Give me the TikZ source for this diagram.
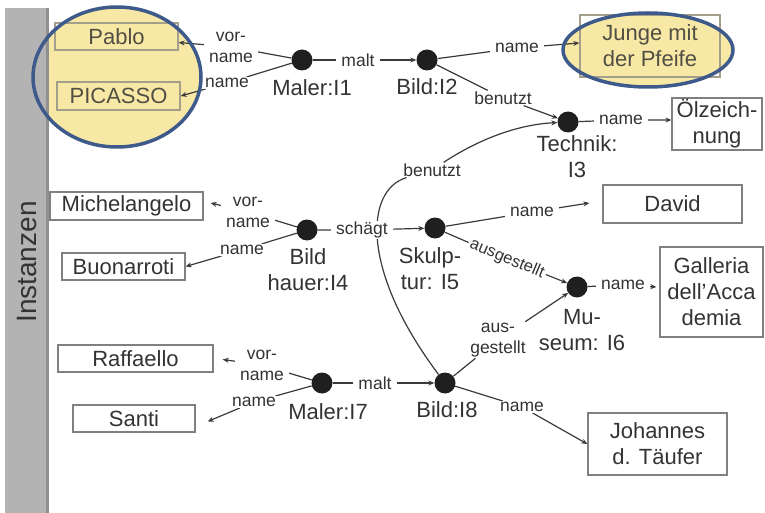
\documentclass[tikz,border=0pt]{standalone}
\usepackage{fontspec}
\setmainfont{Liberation Sans}
\usetikzlibrary{arrows.meta}
\definecolor{ln}{HTML}{3A3A3A}
\definecolor{tx}{HTML}{333333}
\definecolor{bx}{HTML}{808080}
\definecolor{hl}{HTML}{F8E8A6}
\definecolor{hb}{HTML}{3D5A8A}
\definecolor{barc}{HTML}{B3B3B3}
\definecolor{bare}{HTML}{8F8F8F}
\pgfdeclarelayer{hlbg}\pgfdeclarelayer{bg}\pgfdeclarelayer{fg}\pgfsetlayers{hlbg,bg,main,fg}
\begin{document}
\begin{tikzpicture}[x=1pt,y=-1pt,
 box/.style={draw=bx, line width=1.3pt, text=tx, align=center, inner sep=0pt, font=\fontsize{22}{26}\selectfont},
 hbox/.style={box, draw=bx!70!hl, text=tx!85!hl},
 dot/.style={circle, fill=black!88, inner sep=0pt, minimum size=21pt},
 inst/.style={text=tx, align=center, inner sep=0pt, font=\fontsize{22}{26}\selectfont},
 lbl/.style={text=tx, align=center, fill=white, inner xsep=5pt, inner ysep=1pt, font=\fontsize{17.5}{21}\selectfont},
 edge/.style={draw=ln, line width=1.2pt},
 arr/.style={edge, -{Stealth[length=6pt,width=5pt]}},
 hlfill/.style={fill=hl},
 hlring/.style={draw=hb, line width=3.5pt}]
\useasboundingbox (0,0) rectangle (765,513);
% bar
\fill[barc] (5,8) rectangle (49,513);
\draw[bare, line width=3pt] (47.5,8) -- (47.5,513);
\node[rotate=90, text=tx, font=\fontsize{28}{32}\selectfont] (inst) at (27,262) {Instanzen};
% boxes
\node[hbox, minimum width=123pt, minimum height=27pt] (pablo) at (116.5,36.5) {Pablo};
\node[hbox, minimum width=123pt, minimum height=28pt] (picasso) at (118.5,96) {PICASSO};
\node[hbox, minimum width=140pt, minimum height=62pt] (junge) at (650,46) {Junge mit\\der Pfeife};
\node[box, minimum width=90pt, minimum height=52pt] (oel) at (717,124) {Ölzeich-\\nung};
\node[box, minimum width=153pt, minimum height=28pt] (mich) at (126.5,206) {Michelangelo};
\node[box, minimum width=123pt, minimum height=27pt] (buon) at (123.5,266.5) {Buonarroti};
\node[box, minimum width=139pt, minimum height=38pt] (david) at (672.5,204) {David};
\node[box, minimum width=103pt, minimum height=90pt] (gall) at (711.5,292) {Galleria\\dell'Acca\\demia};
\node[box, minimum width=155pt, minimum height=27pt] (raff) at (135.5,358.5) {Raffaello};
\node[box, minimum width=122pt, minimum height=27pt] (santi) at (134,418.5) {Santi};
\node[box, minimum width=139pt, minimum height=62pt] (joh) at (657.5,444) {Johannes\\d. Täufer};
% instance dots
\node[dot] (m1) at (302,60) {};
\node[dot] (i2) at (427,60) {};
\node[dot] (i3) at (568,122) {};
\node[dot] (i4) at (307,230) {};
\node[dot] (i5) at (435,228) {};
\node[dot] (i6) at (577,287) {};
\node[dot] (i7) at (322,383) {};
\node[dot] (i8) at (445,383) {};
% instance names
\node[inst] (n1) at (312,88) {Maler:I1};
\node[inst] (n2) at (427,87) {Bild:I2};
\node[inst] (n3) at (577,157) {Technik:\\I3};
\node[inst] (n4) at (308,270) {Bild\\hauer:I4};
\node[inst] (n5) at (430,269) {Skulp-\\tur: I5};
\node[inst] (n6) at (582,330) {Mu-\\seum: I6};
\node[inst] (n7) at (328,412) {Maler:I7};
\node[inst] (n8) at (447,410) {Bild:I8};
% edge labels
\node[lbl] (l1) at (231,47) {vor-\\name};
\node[lbl] (l2) at (227,83) {name};
\node[lbl] (l3) at (358,60) {malt};
\node[lbl] (l4) at (517,48) {name};
\node[lbl] (l5) at (503,98) {benutzt};
\node[lbl] (l6) at (621,120) {name};
\node[lbl] (l7) at (432,170) {benutzt};
\node[lbl] (l8) at (248,212) {vor-\\name};
\node[lbl] (l9) at (242,250) {name};
\node[lbl] (l10) at (362,230) {schägt};
\node[lbl] (l11) at (532,212) {name};
\node[lbl, rotate=-22.6, inner xsep=2pt, inner ysep=0pt, font=\fontsize{16.5}{20}\selectfont] (l12) at (507,259) {ausgestellt};
\node[lbl] (l13) at (623,285) {name};
\node[lbl] (l14) at (498,340) {aus-\\gestellt};
\node[lbl] (l15) at (262,365) {vor-\\name};
\node[lbl] (l16) at (254,402) {name};
\node[lbl] (l17) at (375,383) {malt};
\node[lbl] (l18) at (522,407) {name};
% highlight fills (behind)
\begin{pgfonlayer}{hlbg}
\path[hlfill] (117,77) ellipse [x radius=84, y radius=70];
\path[hlfill] (648,50) ellipse [x radius=85, y radius=37];
\end{pgfonlayer}
% connectors
\begin{pgfonlayer}{bg}
\draw[arr] (m1) -- (l1) -- ([yshift=-6pt]pablo.east);
\draw[arr] (m1) -- (l2) -- (picasso.east);
\draw[arr] (m1) -- (l3) -- (i2);
\draw[arr] (i2) -- (l4) -- ([yshift=3pt]junge.west);
\draw[arr] (i2) -- (l5) -- (i3);
\draw[arr] (i3) -- (l6) -- ([yshift=4pt]oel.west);
\draw[arr] (i8) .. controls (360,270) and (365,190) .. (l7) .. controls (470,145) and (510,125) .. (i3);
\draw[arr] (i4) -- (l8) -- ([xshift=7pt,yshift=3pt]mich.east);
\draw[arr] (i4) -- (l9) -- (buon.east);
\draw[arr] (i4) -- (l10) -- (i5);
\draw[arr] (i5) -- (l11) -- ([xshift=-13pt,yshift=1pt]david.west);
\draw[arr] (i5) -- (l12) -- (i6);
\draw[arr] (i6) -- (l13) -- ([xshift=-3pt,yshift=5pt]gall.west);
\draw[arr] (i8) -- (l14) -- (i6);
\draw[arr] (i7) -- (l15) -- ([xshift=9pt,yshift=-1pt]raff.east);
\draw[arr] (i7) -- (l16) -- ([xshift=12pt,yshift=-3pt]santi.east);
\draw[arr] (i7) -- (l17) -- (i8);
\draw[arr] (i8) -- (l18) -- (joh.west);
\end{pgfonlayer}
% highlight rings (front)
\begin{pgfonlayer}{fg}
\path[hlring] (117,77) ellipse [x radius=84, y radius=70];
\path[hlring] (648,50) ellipse [x radius=85, y radius=37];
\end{pgfonlayer}
\end{tikzpicture}
\end{document}
